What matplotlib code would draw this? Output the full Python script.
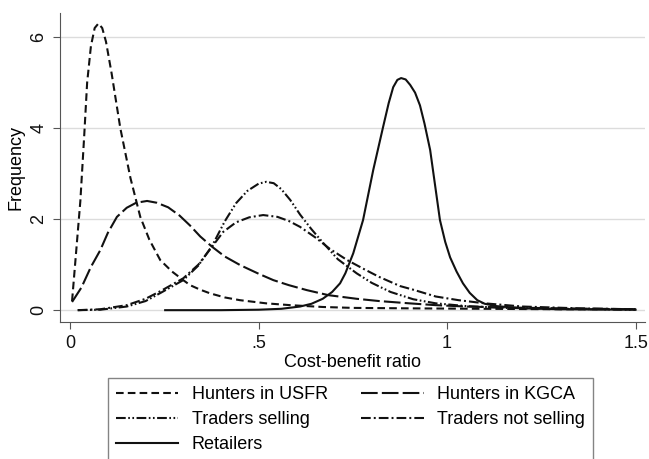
import matplotlib
matplotlib.use("Agg")
import matplotlib.pyplot as plt

plt.rcParams["font.family"] = ["Liberation Sans", "DejaVu Sans"]
plt.rcParams["lines.scale_dashes"] = False

# values (cost-benefit ratio, frequency)
usfr_x = [0.005, 0.015, 0.027, 0.037, 0.045, 0.055, 0.065, 0.075, 0.085, 0.095,
          0.11, 0.133, 0.16, 0.186, 0.21, 0.239, 0.27, 0.30, 0.318, 0.345, 0.371,
          0.41, 0.45, 0.52, 0.584, 0.67, 0.75, 0.9, 1.1, 1.3, 1.5]
usfr_y = [0.2, 1.2, 2.4, 3.8, 5.0, 5.8, 6.2, 6.3, 6.2, 5.9,
          5.2, 4.0, 2.9, 2.05, 1.55, 1.1, 0.85, 0.66, 0.55, 0.45, 0.37,
          0.28, 0.22, 0.15, 0.11, 0.07, 0.05, 0.04, 0.03, 0.02, 0.02]

kgca_x = [0.005, 0.03, 0.055, 0.08, 0.10, 0.124, 0.15, 0.175, 0.204, 0.23, 0.26,
          0.29, 0.318, 0.345, 0.377, 0.41, 0.451, 0.50, 0.539, 0.58, 0.628,
          0.685, 0.76, 0.82, 0.9, 0.97, 1.05, 1.15, 1.3, 1.5]
kgca_y = [0.18, 0.5, 0.95, 1.32, 1.7, 2.05, 2.25, 2.36, 2.4, 2.36, 2.26,
          2.08, 1.86, 1.62, 1.39, 1.18, 0.99, 0.8, 0.66, 0.55, 0.44,
          0.33, 0.25, 0.2, 0.15, 0.11, 0.08, 0.06, 0.04, 0.02]

sell_x = [0.02, 0.08, 0.15, 0.2, 0.24, 0.3, 0.34, 0.377, 0.41, 0.44, 0.47, 0.50,
          0.52, 0.54, 0.56, 0.584, 0.61, 0.64, 0.671, 0.71, 0.76, 0.80, 0.85,
          0.91, 0.97, 1.05, 1.15, 1.3, 1.5]
sell_y = [0.0, 0.01, 0.08, 0.2, 0.38, 0.66, 0.98, 1.42, 1.95, 2.35, 2.62, 2.78,
          2.82, 2.79, 2.66, 2.42, 2.1, 1.78, 1.48, 1.12, 0.81, 0.6, 0.4,
          0.24, 0.15, 0.09, 0.05, 0.03, 0.01]

notsell_x = [0.02, 0.08, 0.15, 0.2, 0.24, 0.3, 0.34, 0.377, 0.406, 0.44, 0.475,
             0.512, 0.55, 0.58, 0.61, 0.65, 0.69, 0.735, 0.78, 0.82, 0.875, 0.91,
             0.97, 1.03, 1.10, 1.2, 1.35, 1.5]
notsell_y = [0.0, 0.02, 0.11, 0.25, 0.42, 0.7, 1.0, 1.4, 1.72, 1.93, 2.04,
             2.09, 2.05, 1.96, 1.83, 1.6, 1.34, 1.1, 0.9, 0.73, 0.53, 0.45,
             0.3, 0.22, 0.15, 0.08, 0.04, 0.02]

retail_x = [0.252, 0.4, 0.5, 0.56, 0.61, 0.64, 0.67, 0.695, 0.716, 0.73, 0.751,
            0.777, 0.804, 0.83, 0.845, 0.857, 0.868, 0.878, 0.89, 0.902, 0.915,
            0.928, 0.94, 0.955, 0.968, 0.981, 0.995, 1.008, 1.025, 1.042, 1.06,
            1.08, 1.1, 1.13, 1.2, 1.3, 1.5]
retail_y = [0.0, 0.0, 0.01, 0.03, 0.08, 0.14, 0.25, 0.4, 0.59, 0.81, 1.25,
            1.98, 3.08, 4.02, 4.55, 4.9, 5.06, 5.1, 5.07, 4.95, 4.78,
            4.5, 4.1, 3.52, 2.75, 1.98, 1.5, 1.16, 0.85, 0.59, 0.38,
            0.22, 0.14, 0.09, 0.04, 0.02, 0.01]

x_ticks = [0, 0.5, 1, 1.5]
x_tick_labels = ["0", ".5", "1", "1.5"]
y_ticks = [0, 2, 4, 6]
y_tick_labels = ["0", "2", "4", "6"]

W, H = 649, 459
fig = plt.figure(figsize=(W / 100, H / 100), dpi=100)
ax = fig.add_axes([60 / W, 1 - 322 / H, 585 / W, 309 / H])

lw = 1.5
col = "#111111"
ax.plot(usfr_x, usfr_y, color=col, lw=lw, dashes=(5.5, 3.0), label="Hunters in USFR")
ax.plot(kgca_x, kgca_y, color=col, lw=lw, dashes=(12, 3.0), label="Hunters in KGCA")
ax.plot(sell_x, sell_y, color=col, lw=lw, dashes=(7, 1.8, 1.2, 1.8, 1.2, 1.8),
        label="Traders selling")
ax.plot(notsell_x, notsell_y, color=col, lw=lw, dashes=(7, 2.2, 1.4, 2.2),
        label="Traders not selling")
ax.plot(retail_x, retail_y, color=col, lw=lw, label="Retailers")

ax.set_xlim(-0.027, 1.525)
ax.set_ylim(-0.26, 6.53)
ax.set_xticks(x_ticks)
ax.set_xticklabels(x_tick_labels)
ax.set_yticks(y_ticks)
ax.set_yticklabels(y_tick_labels, rotation=90, va="center")
ax.grid(axis="y", color="#dcdcdc", lw=1.0)
ax.set_axisbelow(True)
for s in ["top", "right"]:
    ax.spines[s].set_visible(False)
for s in ["left", "bottom"]:
    ax.spines[s].set_color("#555555")
ax.tick_params(direction="out", length=5, color="#555555", labelsize=13,
               labelcolor="#111111", pad=4)
ax.set_xlabel("Cost-benefit ratio", fontsize=13, labelpad=2)
ax.set_ylabel("Frequency", fontsize=13, labelpad=4)

h, l = ax.get_legend_handles_labels()
order = [0, 2, 4, 1, 3]
leg = fig.legend([h[i] for i in order], [l[i] for i in order], ncol=2,
                 loc="upper left", bbox_to_anchor=(108 / W, 1 - 378 / H),
                 fontsize=13, frameon=True, fancybox=False, edgecolor="#666666",
                 handlelength=3.45, handletextpad=0.75, columnspacing=1.85,
                 labelspacing=0.45, borderaxespad=0, borderpad=0.45)
leg.get_frame().set_linewidth(1.0)

fig.savefig("out.png", dpi=100)
